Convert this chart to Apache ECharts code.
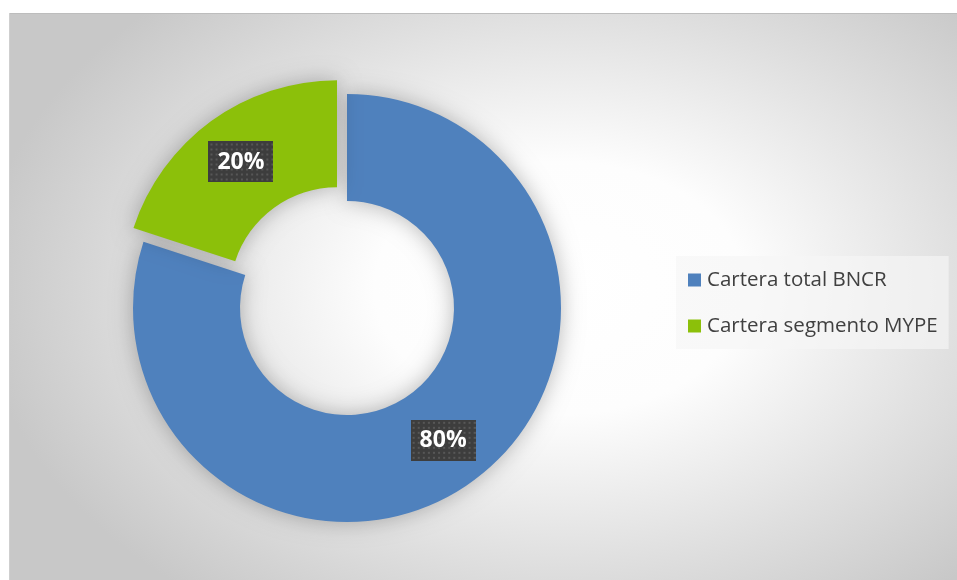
<!DOCTYPE html>
<html>
<head>
<meta charset="utf-8">
<script src="https://cdn.jsdelivr.net/npm/echarts@6/dist/echarts.min.js"></script>
<style>
  html, body { margin: 0; padding: 0; background: #ffffff; }
  #chart { width: 957px; height: 580px; }
</style>
</head>
<body>
<div id="chart"></div>
<script>
// Portfolio split
const categories = ['Cartera total BNCR', 'Cartera segmento MYPE'];
const values = [80, 20];
const colors = ['#4f81bd', '#8cc00a'];

// Dark dotted tile used behind the percentage labels
function makeDotTile(w, h) {
  const c = document.createElement('canvas');
  c.width = w; c.height = h;
  const g = c.getContext('2d');
  g.fillStyle = '#3d3d3d';
  g.fillRect(0, 0, w, h);
  g.fillStyle = '#575757';
  for (let y = 2; y < h; y += 5) {
    for (let x = 2; x < w; x += 5) {
      g.fillRect(x, y, 2, 2);
    }
  }
  return c;
}
const dotTile = makeDotTile(64, 41);

const chart = echarts.init(document.getElementById('chart'), null, { renderer: 'canvas' });

// Elliptical light spot on the plot background (scaled vertically)
const bgScaleY = 0.68;
const bgRect = {
  type: 'rect',
  x: 9, y: 13,
  scaleY: bgScaleY,
  silent: true,
  z: -10,
  shape: { x: 0, y: 0, width: 948, height: 567 / bgScaleY },
  style: {
    fill: {
      type: 'radial',
      x: 551, y: (288 - 13) / bgScaleY, r: 580,
      global: true,
      colorStops: [
        { offset: 0, color: '#ffffff' },
        { offset: 0.32, color: '#fdfdfd' },
        { offset: 0.7, color: '#dfdfdf' },
        { offset: 1, color: '#c8c8c8' }
      ]
    }
  }
};

chart.setOption({
  animation: false,
  backgroundColor: '#ffffff',
  graphic: [
    bgRect,
    {
      type: 'line', silent: true, z: -9,
      shape: { x1: 9, y1: 13.5, x2: 957, y2: 13.5 },
      style: { stroke: '#bdbdbd', lineWidth: 1 }
    },
    {
      type: 'line', silent: true, z: -9,
      shape: { x1: 9.5, y1: 13, x2: 9.5, y2: 580 },
      style: { stroke: '#cfcfcf', lineWidth: 1 }
    }
  ],
  legend: {
    orient: 'vertical',
    left: 676,
    top: 256,
    padding: [13, 11, 12, 12],
    itemWidth: 13,
    itemHeight: 13,
    itemGap: 24,
    backgroundColor: 'rgba(246,246,246,0.65)',
    icon: 'rect',
    selectedMode: false,
    data: categories,
    textStyle: {
      fontFamily: '"Open Sans", sans-serif',
      fontSize: 20.5,
      lineHeight: 22,
      color: '#404040',
      padding: [0, 0, 0, 1]
    }
  },
  series: [{
    type: 'pie',
    center: [347, 308],
    radius: [107, 214],
    startAngle: 90,
    clockwise: true,
    selectedMode: 'single',
    selectedOffset: 17,
    avoidLabelOverlap: false,
    emphasis: { disabled: true },
    select: { itemStyle: {} },
    itemStyle: {
      shadowBlur: 22,
      shadowColor: 'rgba(0,0,0,0.28)'
    },
    labelLine: { show: false },
    label: {
      show: true,
      position: 'inside',
      formatter: p => Math.round(p.percent) + '%',
      color: '#ffffff',
      fontFamily: '"Open Sans", sans-serif',
      fontWeight: 'bold',
      fontSize: 23,
      lineHeight: 23,
      overflow: 'none',
      padding: [9, 9, 9, 9],
      backgroundColor: { image: dotTile },
      shadowBlur: 6,
      shadowOffsetX: 4,
      shadowOffsetY: 4,
      shadowColor: 'rgba(0,0,0,0.35)'
    },
    data: categories.map((name, i) => ({
      name: name,
      value: values[i],
      selected: i === 1,
      itemStyle: { color: colors[i] }
    }))
  }]
});
</script>
</body>
</html>
